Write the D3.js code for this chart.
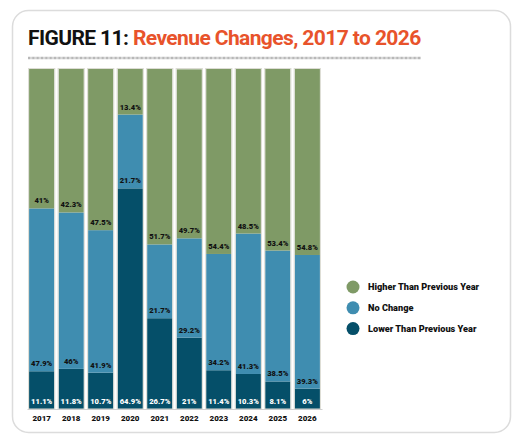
<!DOCTYPE html>
<html>
<head>
<meta charset="utf-8">
<script src="https://cdnjs.cloudflare.com/ajax/libs/d3/7.8.5/d3.min.js"></script>
<style>
  html, body { margin: 0; padding: 0; background: #fff; }
  svg text { font-family: Roboto, 'Noto Sans', sans-serif; }
</style>
</head>
<body>
<div id="chart"></div>
<script>
// data
let years = [ '2017', '2018', '2019', '2020', '2021', '2022', '2023', '2024', '2025', '2026' ]
let lower = [ 11.1, 11.8, 10.7, 64.9, 26.7, 21, 11.4, 10.3, 8.1, 6 ]
let noChange = [ 47.9, 46, 41.9, 21.7, 21.7, 29.2, 34.2, 41.3, 38.5, 39.3 ]
let higher = [ 41, 42.3, 47.5, 13.4, 51.7, 49.7, 54.4, 48.5, 53.4, 54.8 ]
let seriesNames = [ 'Lower Than Previous Year', 'No Change', 'Higher Than Previous Year' ]
let legendOrder = [ 'Higher Than Previous Year', 'No Change', 'Lower Than Previous Year' ]

let colors = [ '#054f69', '#3f8db0', '#7f9a66' ]
let labelColors = [ '#fff', '#111', '#111' ]

let width = 522
let height = 442

let svg = d3.select('#chart').append('svg')
  .attr('width', width)
  .attr('height', height)

// card
svg.append('rect')
  .attr('x', 12.5)
  .attr('y', 10.5)
  .attr('width', 498)
  .attr('height', 422)
  .attr('rx', 16)
  .attr('fill', '#fff')
  .attr('stroke', '#dcdcdc')
  .attr('stroke-width', 1.5)

// title
let title = svg.append('text')
  .attr('x', 28)
  .attr('y', 45)
  .style('font-size', '21px')
  .style('font-weight', 'bold')
  .style('letter-spacing', '-0.6px')
title.append('tspan').attr('fill', '#111').text('FIGURE 11: ')
title.append('tspan').attr('fill', '#e8532b').text('Revenue Changes, 2017 to 2026')

svg.append('line')
  .attr('x1', 28)
  .attr('x2', 421)
  .attr('y1', 58)
  .attr('y2', 58)
  .attr('stroke', '#9a9a9a')
  .attr('stroke-width', 2.5)
  .attr('stroke-dasharray', '0.7,0.6')

let rows = years.map((y, i) => ({ year: y, 'Lower Than Previous Year': lower[i], 'No Change': noChange[i], 'Higher Than Previous Year': higher[i] }))
let stacked = d3.stack().keys(seriesNames)(rows)

let x = d3.scaleBand()
  .domain(years)
  .range([ 27, 322 ])
  .paddingInner(0.145)
  .paddingOuter(0.07)

let y = d3.scaleLinear()
  .domain([ 0, 100 ])
  .range([ 409, 69 ])
  .clamp(true)

let layers = svg.selectAll('.layer')
  .data(stacked)
  .enter()
  .append('g')
  .attr('class', 'layer')
  .attr('fill', (d, i) => colors[i])

layers.selectAll('rect')
  .data(d => d)
  .enter()
  .append('rect')
  .attr('x', d => x(d.data.year))
  .attr('y', d => y(d[1]))
  .attr('width', x.bandwidth())
  .attr('height', d => y(d[0]) - y(d[1]))

// thin light edge around each bar
svg.selectAll('.edge')
  .data(years)
  .enter()
  .append('rect')
  .attr('class', 'edge')
  .attr('x', d => x(d) - 0.5)
  .attr('y', y(100) - 0.5)
  .attr('width', x.bandwidth() + 1)
  .attr('height', y(0) - y(100) + 0.5)
  .attr('fill', 'none')
  .attr('stroke', '#dcdcd4')
  .attr('stroke-width', 1)

// value labels
layers.each(function (layer, li) {
  d3.select(this).selectAll('text')
    .data(layer)
    .enter()
    .append('text')
    .attr('x', d => x(d.data.year) + x.bandwidth() / 2)
    .attr('y', d => li === 0 ? y(0) - 5 : y(d[0]) - 5)
    .attr('text-anchor', 'middle')
    .attr('fill', labelColors[li])
    .style('font-size', '7.6px')
    .style('font-weight', '900')
    .text(d => d.data[seriesNames[li]] + '%')
})

// x axis
let axis = svg.append('g')
  .attr('transform', 'translate(0,' + y(0) + ')')
  .call(d3.axisBottom(x).tickSize(0).tickPadding(6))
axis.select('.domain')
  .attr('stroke', '#cfcfcf')
  .attr('stroke-width', 1.2)
axis.selectAll('text')
  .attr('fill', '#111')
  .style('font-size', '8px')
  .style('font-weight', '900')
  .style('font-family', 'Roboto, sans-serif')

// legend
let legend = svg.selectAll('.legend')
  .data(legendOrder)
  .enter()
  .append('g')
  .attr('class', 'legend')
  .attr('transform', (d, i) => 'translate(353,' + (287 + i * 20.8) + ')')
legend.append('circle')
  .attr('r', 6.5)
  .attr('fill', d => colors[seriesNames.indexOf(d)])
legend.append('text')
  .attr('x', 15)
  .attr('y', 3.3)
  .attr('fill', '#111')
  .style('font-size', '9.2px')
  .style('font-weight', '900')
  .text(d => d)
</script>
</body>
</html>
